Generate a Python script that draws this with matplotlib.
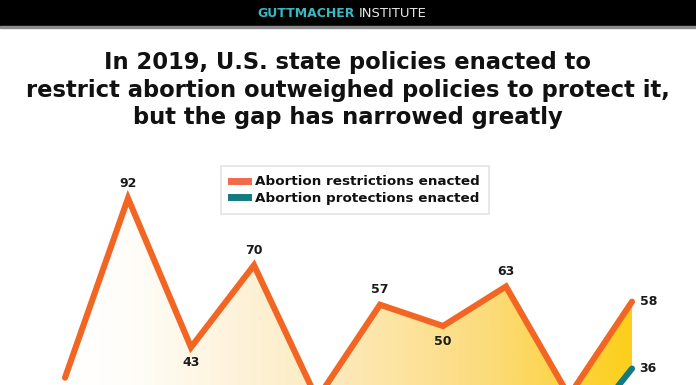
import numpy as np
import matplotlib.pyplot as plt
from matplotlib.patches import Rectangle
from matplotlib.colors import LinearSegmentedColormap
from matplotlib.lines import Line2D

# datos (la parte baja esta recortada)
years = [2010, 2011, 2012, 2013, 2014, 2015, 2016, 2017, 2018, 2019]
restrictions = [33, 92, 43, 70, 26, 57, 50, 63, 27, 58]
protections = [4, 6, 8, 5, 7, 9, 8, 12, 10, 36]

title = ("In 2019, U.S. state policies enacted to\n"
         "restrict abortion outweighed policies to protect it,\n"
         "but the gap has narrowed greatly")

orange = '#f26522'
teal = '#137a80'

fig = plt.figure(figsize=(6.96, 3.85), dpi=100)
ax = fig.add_axes([0, 0, 1, 1])
ax.axis('off')

# relleno con degradado entre las dos lineas
poly = ax.fill_between(years, protections, restrictions, color='none')
cmap = LinearSegmentedColormap.from_list(
    'grad', [(0, '#ffffff'), (0.12, '#fffdf8'), (0.45, '#fdebc2'),
             (0.75, '#fcdb7a'), (1, '#fccf1a')])
grad = np.linspace(0, 1, 256).reshape(1, -1)
im = ax.imshow(grad, cmap=cmap, aspect='auto', extent=[2010, 2019, 0, 100],
               zorder=1)
im.set_clip_path(poly.get_paths()[0], transform=ax.transData)
ax.set_xlim(2008.968, 2020.016)
ax.set_ylim(30.6, 157.2)

ax.plot(years, restrictions, color=orange, lw=4.4, solid_capstyle='round',
        solid_joinstyle='miter', zorder=3)
ax.plot(years, protections, color=teal, lw=4.4, solid_capstyle='round',
        zorder=3)

# etiquetas de valores (las que quedan fuera del recorte no se dibujan)
lab = dict(fontsize=9, fontweight='bold', color='#1a1a1a', zorder=4)
for i, (x, v) in enumerate(zip(years, restrictions)):
    if i == len(years) - 1:
        ax.text(x + 0.12, v, str(v), ha='left', va='center', **lab)
    elif i in (4, 8):
        continue
    elif i in (0, 2, 6):
        ax.text(x, v - 2.8, str(v), ha='center', va='top', **lab)
    else:
        ax.text(x, v + 2.8, str(v), ha='center', va='bottom', **lab)
ax.text(years[-1] + 0.12, protections[-1], str(protections[-1]),
        ha='left', va='center', **lab)

# barra superior
fig.patches.append(Rectangle((0, 1 - 26 / 385), 1, 26 / 385,
                             transform=fig.transFigure, color='black',
                             zorder=5))
fig.patches.append(Rectangle((0, 1 - 27.5 / 385), 1, 1.5 / 385,
                             transform=fig.transFigure, color='#8a8a8a',
                             zorder=5))
fig.text(355 / 696, 1 - 13.5 / 385, 'GUTTMACHER', ha='right', va='center',
         fontsize=9, fontweight='bold', color='#3ab8c0', zorder=6)
fig.text(359 / 696, 1 - 13.5 / 385, 'INSTITUTE', ha='left', va='center',
         fontsize=9.5, color='#e6e6e6', zorder=6)

fig.text(0.5, 1 - 90 / 385, title, ha='center', va='center', fontsize=16.3,
         fontweight='bold', color='#111111', linespacing=1.25)

handles = [Line2D([], [], color='#f26a4b', lw=5),
           Line2D([], [], color=teal, lw=5)]
leg = fig.legend(handles, ['Abortion restrictions enacted',
                           'Abortion protections enacted'],
                 loc='center', bbox_to_anchor=(355 / 696, 1 - 190 / 385),
                 frameon=True, fancybox=False, edgecolor='#dddddd',
                 handlelength=1.3, handletextpad=0.5, labelspacing=0.25,
                 borderpad=0.7, prop={'weight': 'bold', 'size': 9.7})
leg.get_frame().set_linewidth(1.2)
for t in leg.get_texts():
    t.set_color('#111111')

fig.savefig('out.png', dpi=100, facecolor='white')
